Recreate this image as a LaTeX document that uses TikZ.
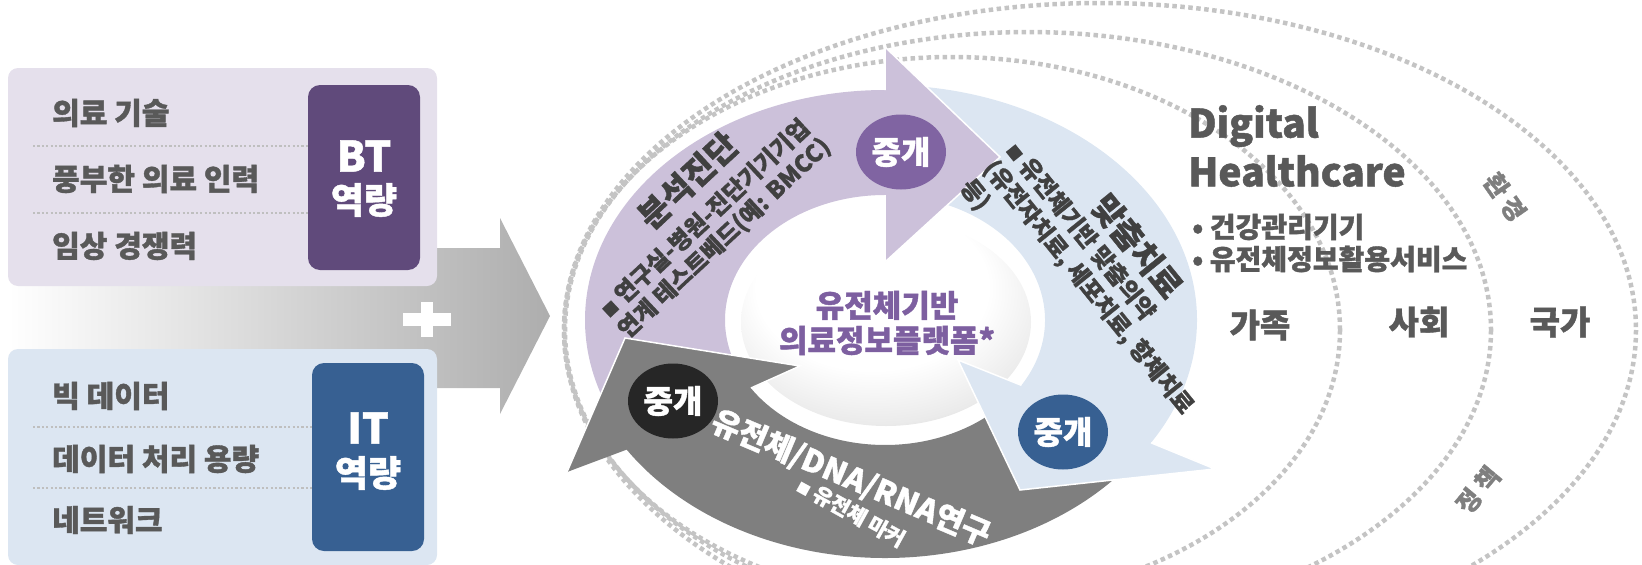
\documentclass[tikz,border=0pt]{standalone}
\usepackage{fontspec}
\setmainfont{Noto Sans CJK KR}[BoldFeatures={FakeBold=1.2}]
\usetikzlibrary{calc,shapes.geometric}
\definecolor{txtgray}{HTML}{595959}
\definecolor{ringtxt}{HTML}{404040}
\definecolor{btpanel}{HTML}{E5E0EC}
\definecolor{itpanel}{HTML}{DCE6F2}
\definecolor{btbox}{HTML}{604A7B}
\definecolor{itbox}{HTML}{376092}
\definecolor{ringpurple}{HTML}{CCC1DA}
\definecolor{ringblue}{HTML}{DCE6F2}
\definecolor{ringgray}{HTML}{7F7F7F}
\definecolor{relaypurple}{HTML}{8064A2}
\definecolor{relayblue}{HTML}{376092}
\definecolor{relayblack}{HTML}{262626}
\definecolor{centertxt}{HTML}{7D5FA0}
\definecolor{dotgray}{HTML}{C4C4C4}
\definecolor{sepgray}{HTML}{BFBFBF}
\newcommand\myfs[1]{\fontsize{#1}{#1}\selectfont}
\pgfdeclareradialshading{sphereshade}{\pgfpoint{-4bp}{14bp}}{color(0bp)=(white); color(20bp)=(white); color(30bp)=(black!8); color(38bp)=(black!24); color(46bp)=(black!42); color(50bp)=(black!45)}
\begin{document}
\begin{tikzpicture}[x=1pt,y=-1pt,
  item/.style={anchor=west, inner sep=0, text=txtgray, font=\myfs{30}\bfseries},
  sepline/.style={draw=sepgray, line width=1.6, dash pattern=on 2.2 off 2.2},
  capbox/.style={rounded corners=12, inner sep=0, minimum width=112},
  captext/.style={text=white, inner sep=0},
  dotring/.style={draw=dotgray, line width=4.5, dash pattern=on 4.5 off 3.5},
  relay/.style={ellipse, minimum width=90, minimum height=75, inner sep=0, text=white, font=\myfs{32}\bfseries},
  ringtitle/.style={anchor=west, inner sep=0, text=ringtxt, font=\myfs{33}\bfseries},
  ringline/.style={anchor=west, inner sep=0, text=ringtxt, font=\myfs{23.5}\bfseries},
  outline/.style={draw=white, line width=1.5, line join=miter}
]
\useasboundingbox (0,0) rectangle (1642,565);
\coordinate (C) at (885,320);

% background dotted ellipses
\begin{scope}
\clip (0,0) rectangle (1642,565);
\draw[dotring] (952,330) ellipse [x radius=388, y radius=273];
\draw[dotring] (1028,330) ellipse [x radius=463, y radius=298];
\draw[dotring] (1100,330) ellipse [x radius=536, y radius=327];
\end{scope}

% big gradient arrow
\shade[left color=white, right color=black!32] (8,248) -- (500,248) -- (500,218) -- (550,316) -- (500,414) -- (500,388) -- (8,388) -- cycle;
\fill[white] (403,313) rectangle (451,326);
\fill[white] (421,302) rectangle (433,337);

% BT panel
\node[fill=btpanel, rounded corners=10, minimum width=429, minimum height=218, inner sep=0] (btpanel) at (222.5,177) {};
\node[capbox, fill=btbox, minimum height=185] (bt) at (364,177.5) {};
\node[captext, font=\myfs{42}\bfseries] (btname) at (364,156) {BT};
\node[captext, font=\myfs{36}\bfseries] (btcap) at (364,200) {역량};
\node[item] (bt1) at (52,113) {의료 기술};
\node[item] (bt2) at (52,179) {풍부한 의료 인력};
\node[item] (bt3) at (52,246) {임상 경쟁력};
\draw[sepline] (33,146) -- (308,146);
\draw[sepline] (33,213) -- (308,213);

% IT panel
\node[fill=itpanel, rounded corners=10, minimum width=429, minimum height=216, inner sep=0] (itpanel) at (222.5,457) {};
\node[capbox, fill=itbox, minimum height=188] (it) at (368,457) {};
\node[captext, font=\myfs{42}\bfseries] (itname) at (368,428) {IT};
\node[captext, font=\myfs{36}\bfseries] (itcap) at (368,473) {역량};
\node[item] (it1) at (52,396) {빅 데이터};
\node[item] (it2) at (52,459) {데이터 처리 용량};
\node[item] (it3) at (52,520) {네트워크};
\draw[sepline] (33,427) -- (312,427);
\draw[sepline] (33,488) -- (312,488);

% centre sphere
\shade[shading=sphereshade] (886,322) ellipse [x radius=145, y radius=104];

% gray arrow (bottom)
\fill[ringgray] ($(C)+(40:308 and 238)$) arc[start angle=40, end angle=147, x radius=308, y radius=238]
  -- (567,472) -- (625,338) -- (800,366)
  -- ($(C)+(147:160 and 125)$) arc[start angle=147, end angle=40, x radius=160, y radius=125] -- cycle;
% blue arrow (right)
\fill[ringblue] ($(C)+(272:312 and 235)$) arc[start angle=272, end angle=391.5, x radius=312, y radius=235]
  -- (1215,469) -- (1020,490) -- (958,360)
  -- ($(C)+(31.5:160 and 125)$) arc[start angle=391.5, end angle=272, x radius=160, y radius=125] -- cycle;
\draw[outline] ($(C)+(31.5:312 and 235)$) -- (1215,469) -- (1020,490) -- (958,360) -- ($(C)+(31.5:160 and 125)$);
% purple arrow (top left)
\fill[ringpurple] ($(C)+(157:300 and 230)$) arc[start angle=157, end angle=270, x radius=300, y radius=230]
  -- (885,47) -- (1000,157) -- (885,262)
  -- ($(C)+(270:160 and 125)$) arc[start angle=270, end angle=157, x radius=160, y radius=125] -- cycle;
\draw[outline] (885,90) -- (885,47) -- (1000,157) -- (885,262) -- (885,195);
% gray head again on top of the purple start
\fill[ringgray] (567,472) -- (625,338) -- (800,366) -- cycle;
\draw[outline] (567,472) -- (625,338) -- (800,366) -- ($(C)+(147:160 and 125)$);

% relay circles
\node[relay, fill=relaypurple] (r1) at (901,152) {중개};
\node[relay, fill=relayblack] (r2) at (673,401) {중개};
\node[relay, fill=relayblue] (r3) at (1063,432) {중개};

% centre text
\node[align=center, text=centertxt, font=\myfs{31}\bfseries, inner sep=0] (core) at (887,323) {유전체기반\\[4pt]의료정보플랫폼*};

% purple ring text
\node[ringtitle, rotate=43] (p1) at (643,222) {분석진단};
\node[ringline, rotate=43] (p2) at (603,312) {{\myfs{15}■} 연구실-병원-진단기기기업};
\node[ringline, rotate=43] (p3) at (622,334) {연계 테스트베드(예: BMCC)};

% blue ring text
\node[ringtitle, rotate=-51] (b1) at (1099,199) {맞춤치료};
\node[ringline, rotate=-51] (b2) at (1012,145) {{\myfs{15}■} 유전체기반 맞춤의약};
\node[ringline, rotate=-51] (b3) at (988,164) {(유전자치료, 세포치료, 항체치료};
\node[ringline, rotate=-51] (b4) at (965,183) {등)};

% gray ring text
\node[anchor=west, inner sep=0, text=white, font=\myfs{31}\bfseries, rotate=-23] (g1) at (713,420) {유전체/DNA/RNA연구};
\node[anchor=west, inner sep=0, text=white, font=\myfs{21}\bfseries, rotate=-29] (g2) at (799,483) {{\myfs{13}■} 유전체 마커};

% right side
\node[anchor=west, inner sep=0, text=txtgray, font=\myfs{39}\bfseries] (dh1) at (1188,126) {Digital};
\node[anchor=west, inner sep=0, text=txtgray, font=\myfs{39}\bfseries] (dh2) at (1188,171) {Healthcare};
\node[anchor=west, inner sep=0, text=txtgray, font=\myfs{28}\bfseries] (s1) at (1192,227) {• 건강관리기기};
\node[anchor=west, inner sep=0, text=txtgray, font=\myfs{28}\bfseries] (s2) at (1192,259) {• 유전체정보활용서비스};
\node[text=txtgray, font=\myfs{33}\bfseries, inner sep=0] (fam) at (1260,325) {가족};
\node[text=txtgray, font=\myfs{33}\bfseries, inner sep=0] (soc) at (1419,322) {사회};
\node[text=txtgray, font=\myfs{33}\bfseries, inner sep=0] (nat) at (1560,322) {국가};
\node[text=ringgray, font=\myfs{25}\bfseries, inner sep=0, rotate=-55] (env) at (1505,197) {환 경};
\node[text=ringgray, font=\myfs{25}\bfseries, inner sep=0, rotate=50] (pol) at (1478,490) {정 책};
\end{tikzpicture}
\end{document}
